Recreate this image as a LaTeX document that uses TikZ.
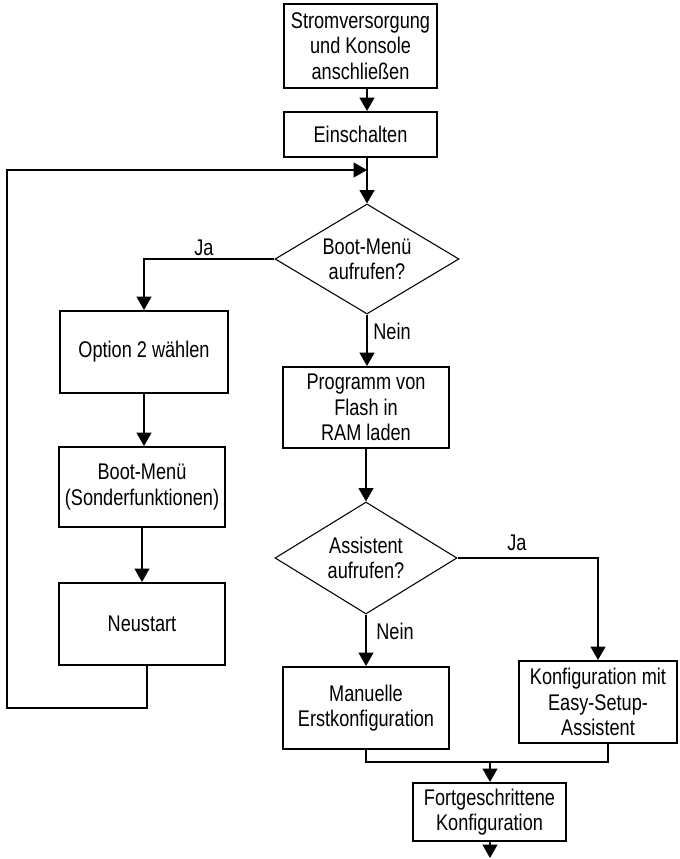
\documentclass[tikz,border=0pt]{standalone}
\usepackage{fontspec}
\setmainfont{Liberation Sans}[FakeStretch=0.8]
\usetikzlibrary{shapes.geometric,arrows.meta}
\begin{document}
\begin{tikzpicture}[x=0.75pt,y=-0.75pt,
  every node/.style={font=\fontsize{17}{19}\selectfont, text=black},
  box/.style={draw, line width=1.5pt, inner sep=0pt, align=center},
  decision/.style={draw, diamond, line width=0.8pt, inner sep=0pt, align=center, aspect=1.67},
  lbl/.style={inner sep=0pt},
  conn/.style={line width=1.5pt},
  arr/.style={line width=1.5pt, -{Triangle[width=11pt,length=10pt]}}]
\useasboundingbox (0,0) rectangle (679,859);

\node[box, minimum width=114.75pt, minimum height=63pt] (b1) at (360.5,46) {Stromversorgung\\und Konsole\\anschließen};
\node[box, minimum width=114.75pt, minimum height=33.75pt] (b2) at (360.5,134.5) {Einschalten};
\node[decision, minimum width=138pt, minimum height=82.5pt] (d1) at (367,259) {Boot-Menü\\aufrufen?};
\node[box, minimum width=126pt, minimum height=61.5pt] (o1) at (144,352) {Option 2 wählen};
\node[box, minimum width=124.5pt, minimum height=60pt] (bm) at (142,487) {Boot-Menü\\(Sonderfunktionen)};
\node[box, minimum width=124.5pt, minimum height=61.5pt] (ns) at (142,624) {Neustart};
\node[box, minimum width=124.5pt, minimum height=60.75pt] (p1) at (366,407.5) {Programm von\\Flash in\\RAM laden};
\node[decision, minimum width=136.5pt, minimum height=84pt] (d2) at (366,558) {Assistent\\aufrufen?};
\node[box, minimum width=124.5pt, minimum height=61.5pt] (mc) at (366,708) {Manuelle\\Erstkonfiguration};
\node[box, minimum width=118.5pt, minimum height=61.5pt] (es) at (598,702) {Konfiguration mit\\Easy-Setup-\\Assistent};
\node[box, minimum width=114.75pt, minimum height=43.5pt] (fc) at (489.5,812) {Fortgeschrittene\\Konfiguration};

\coordinate (m) at (367,170);
\coordinate (lb) at (147,708);
\coordinate (ll) at (7,708);
\coordinate (lt) at (7,170);
\coordinate (j) at (490,762);
\coordinate (esb) at (608,743);
\coordinate (end) at (490,858);

\draw[arr] (b1.south -| m) -- (b2.north -| m);
\draw[conn] (b2.south -| m) -- (m);
\draw[arr] (m) -- (d1.north);
\draw[arr] (lb |- ns.south) -- (lb) -- (ll) -- (lt) -- (m);
\draw[arr] (d1.west) -| (o1.north);
\draw[arr] (o1.south) -- (bm.north -| o1.south);
\draw[arr] (bm.south) -- (ns.north);
\draw[arr] (d1.south) -- (p1.north -| d1.south);
\draw[arr] (p1.south -| d2.north) -- (d2.north);
\draw[arr] (d2.south) -- (mc.north -| d2.south);
\draw[arr] (d2.east) -| (es.north);
\draw[conn] (mc.south -| d2.south) |- (j) -| (esb);
\draw[arr] (j) -- (fc.north -| j);
\draw[arr] (fc.south -| j) -- (end);

\node[lbl] (ja1) at (204,248) {Ja};
\node[lbl] (nein1) at (392,331) {Nein};
\node[lbl] (ja2) at (517,543) {Ja};
\node[lbl] (nein2) at (395,631) {Nein};
\end{tikzpicture}
\end{document}
